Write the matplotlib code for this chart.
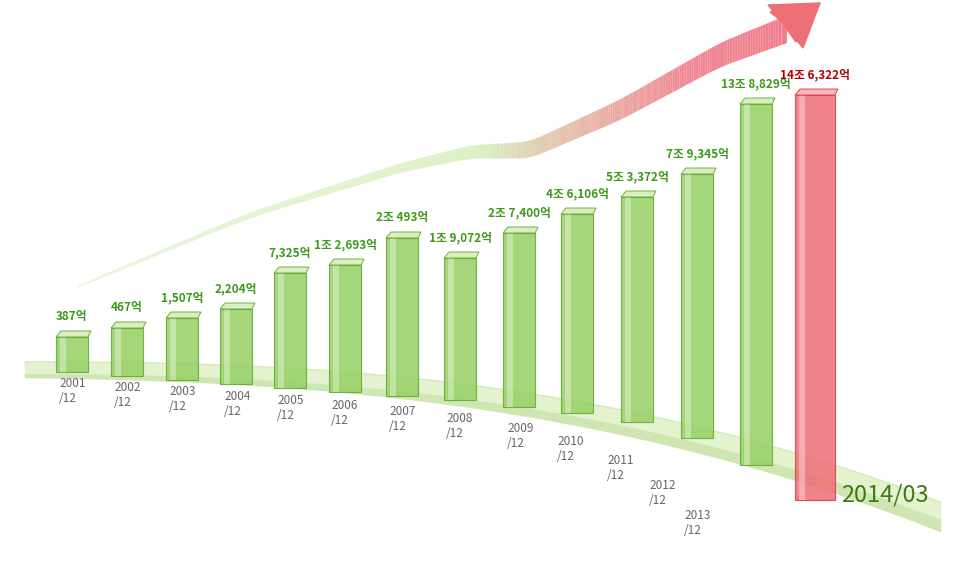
import matplotlib
matplotlib.use("Agg")
import matplotlib.pyplot as plt
import numpy as np
from matplotlib.patches import Polygon, Rectangle

plt.rcParams["font.family"] = ["Noto Sans CJK KR", "DejaVu Sans"]

years = ["2001\n/12","2002\n/12","2003\n/12","2004\n/12","2005\n/12","2006\n/12","2007\n/12",
         "2008\n/12","2009\n/12","2010\n/12","2011\n/12","2012\n/12","2013\n/12","2014/03"]
value_labels = ["387억","467억","1,507억","2,204억","7,325억","1조 2,693억","2조 493억","1조 9,072억",
                "2조 7,400억","4조 6,106억","5조 3,372억","7조 9,345억","13조 8,829억","14조 6,322억"]
values_eok = [387,467,1507,2204,7325,12693,20493,19072,27400,46106,53372,79345,138829,146322]
# illustrated (non-proportional) bar heights as drawn in the infographic
visual_height = [35,48,62,75,115,127,158,142,174,199,225,264,361,405]
x_pos = [72,127,182,236,290,345,402,460,519,577,637,697,756,815]
baseline = [372,376,380,384,388,392,396,400,407,413,422,438,465,500]
year_pos = [(72,377),(127,381),(182,385),(237,390),(290,394),(344,399),(402,405),(459,412),
            (520,422),(570,435),(620,454),(662,479),(697,509)]

fig = plt.figure(figsize=(9.72,5.62), dpi=100)
ax = fig.add_axes([0,0,1,1])
ax.set_xlim(0,972); ax.set_ylim(562,0); ax.axis("off")

# platform
t = np.linspace(0,1,100)
px = 25 + 915*t
top = 362 + 140*t**2.5
bot = top + 12 + 6*t
ax.fill_between(px, top, bot, color="#e4f2cf", zorder=1)
ax.plot(px, top, color="#d5eabb", lw=1, zorder=1)
ax.fill_between(px, bot, bot+3+8*t, color="#cfe6b2", zorder=1)

# arrow band (decorative)
cx = np.array([70,250,400,470,530,620,720,790])
cy = np.array([290,215,168,152,150,110,55,28])
s = np.linspace(0,1,len(cx))
t = np.linspace(0,1,300)
from numpy import interp
ax_x = np.interp(t, s, cx); ax_y = np.interp(t, s, cy)
k = np.ones(15)/15
ax_x = np.convolve(np.pad(ax_x,7,mode="edge"),k,"valid")
ax_y = np.convolve(np.pad(ax_y,7,mode="edge"),k,"valid")
w = 2 + 26*t
for i in range(len(t)-1):
    f = np.clip((t[i]-0.45)/0.35,0,1)
    c = (1-f)*np.array([0.76,0.9,0.6]) + f*np.array([0.93,0.42,0.48])
    ax.fill([ax_x[i],ax_x[i+1],ax_x[i+1],ax_x[i]],
            [ax_y[i]-w[i]/2,ax_y[i+1]-w[i+1]/2,ax_y[i+1]+w[i+1]/2,ax_y[i]+w[i]/2],
            color=c, lw=0, alpha=0.35+0.55*t[i], zorder=0)
ax.add_patch(Polygon([[768,5],[820,3],[803,48]], color="#ee6f78", zorder=0))
ax.add_patch(Polygon([[770,12],[820,3],[796,42],[780,20]], color="#ee6f78", zorder=0))

for i,(x,h,b) in enumerate(zip(x_pos,visual_height,baseline)):
    red = i == len(x_pos)-1
    bw = 40 if red else 32
    face = "#ef6d78" if red else "#96cf62"
    edge = "#d63844" if red else "#5fa830"
    topc = "#f7b8bd" if red else "#d9efbf"
    ax.add_patch(Rectangle((x-bw/2,b-h),bw,h,facecolor=face,edgecolor=edge,lw=0.8,alpha=0.85,zorder=3))
    ax.add_patch(Rectangle((x-bw/2+4,b-h),6,h,facecolor="white",alpha=0.35,lw=0,zorder=4))
    ax.add_patch(Polygon([[x-bw/2,b-h],[x-bw/2+5,b-h-6],[x+bw/2+3,b-h-6],[x+bw/2,b-h]],
                         facecolor=topc,edgecolor=edge,lw=0.6,zorder=4))
    ax.text(x, b-h-14, value_labels[i], ha="center", va="bottom", fontsize=8.5, fontweight="bold",
            color="#b30000" if red else "#3a9a1a", zorder=5)
    if not red:
        yx, yy = year_pos[i]
        ax.text(yx-13, yy, years[i], ha="left", va="top", fontsize=8.5, color="#666666",
                linespacing=1.2, zorder=5)
ax.text(885, 495, years[-1], ha="center", va="center", fontsize=17, color="#3d7a10", zorder=6)

fig.savefig("out.png", dpi=100)
